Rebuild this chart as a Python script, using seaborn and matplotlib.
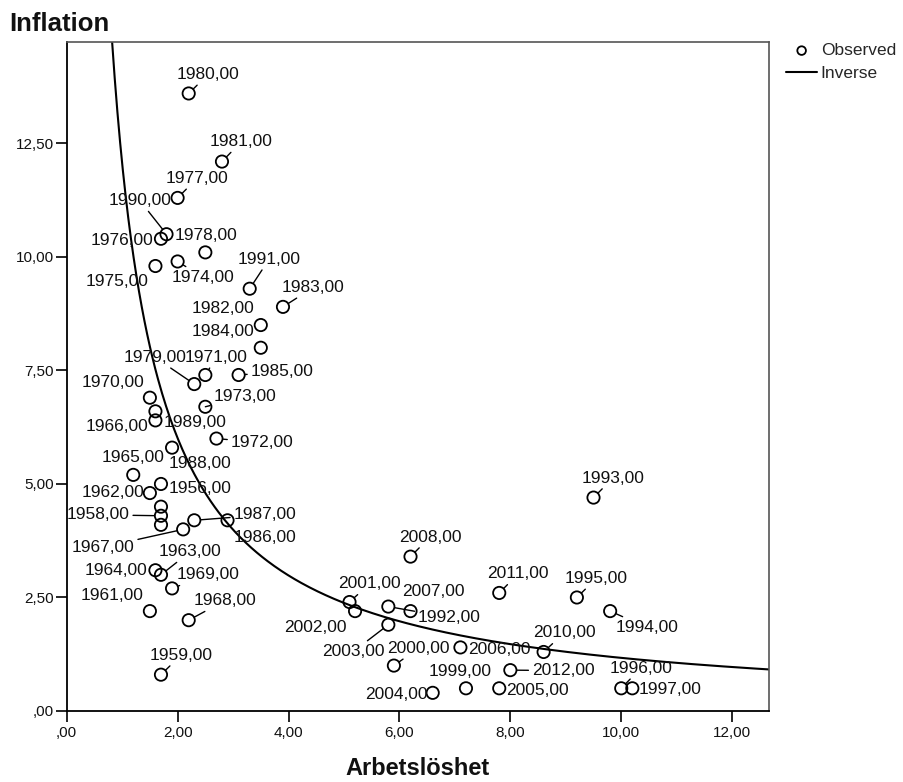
import numpy as np
import pandas as pd
import matplotlib
matplotlib.use("Agg")
import matplotlib.pyplot as plt
from matplotlib.ticker import FuncFormatter, FixedLocator
import seaborn as sns

# ---- data: unemployment (Arbetslöshet) vs inflation per year ----
years = [1956, 1957, 1958, 1959, 1960, 1961, 1962, 1963, 1964, 1965,
         1966, 1967, 1968, 1969, 1970, 1971, 1972, 1973, 1974, 1975,
         1976, 1977, 1978, 1979, 1980, 1981, 1982, 1983, 1984, 1985,
         1986, 1987, 1988, 1989, 1990, 1991, 1992, 1993, 1994, 1995,
         1996, 1997, 1999, 2000, 2001, 2002, 2003, 2004, 2005, 2006,
         2007, 2008, 2010, 2011, 2012]
unemployment = [1.7, 1.7, 1.7, 1.7, 1.7, 1.5, 1.5, 1.7, 1.6, 1.2,
                1.6, 2.1, 2.2, 1.9, 1.5, 2.5, 2.7, 2.5, 2.0, 1.6,
                1.7, 2.0, 2.5, 2.3, 2.2, 2.8, 3.5, 3.9, 3.5, 3.1,
                2.9, 2.3, 1.9, 1.6, 1.8, 3.3, 5.8, 9.5, 9.8, 9.2,
                10.0, 10.2, 7.2, 5.9, 5.1, 5.2, 5.8, 6.6, 7.8, 7.1,
                6.2, 6.2, 8.6, 7.8, 8.0]
inflation = [5.0, 4.5, 4.3, 0.8, 4.1, 2.2, 4.8, 3.0, 3.1, 5.2,
             6.4, 4.0, 2.0, 2.7, 6.9, 7.4, 6.0, 6.7, 9.9, 9.8,
             10.4, 11.3, 10.1, 7.2, 13.6, 12.1, 8.5, 8.9, 8.0, 7.4,
             4.2, 4.2, 5.8, 6.6, 10.5, 9.3, 2.3, 4.7, 2.2, 2.5,
             0.5, 0.5, 0.5, 1.0, 2.4, 2.2, 1.9, 0.4, 0.5, 1.4,
             2.2, 3.4, 1.3, 2.6, 0.9]
# years shown with a case label
labelled_years = [y for y in years if y not in (1957, 1960)]

# Inverse model: Inflation = b0 + b1 / Arbetslöshet
inverse_b0 = -0.04
inverse_b1 = 12.1

# where each case label sits (data coordinates)
label_pos = {
    1980: (2.55, 14.02), 1981: (3.15, 12.54), 1977: (2.35, 11.73),
    1990: (1.32, 11.24), 1976: (0.99, 10.37), 1978: (2.51, 10.48),
    1975: (0.91, 9.46), 1974: (2.46, 9.55), 1991: (3.65, 9.95),
    1983: (4.45, 9.33), 1982: (2.82, 8.87), 1984: (2.82, 8.35),
    1979: (1.59, 7.79), 1971: (2.70, 7.79), 1985: (3.88, 7.47),
    1970: (0.83, 7.23), 1973: (3.21, 6.92), 1966: (0.90, 6.26),
    1989: (2.31, 6.35), 1972: (3.52, 5.91), 1965: (1.20, 5.59),
    1988: (2.40, 5.46), 1962: (0.83, 4.82), 1956: (2.41, 4.91),
    1958: (0.57, 4.32), 1987: (3.57, 4.32), 1967: (0.66, 3.61),
    1986: (3.57, 3.83), 1963: (2.23, 3.51), 1964: (0.89, 3.09),
    1969: (2.55, 3.00), 1961: (0.81, 2.54), 1968: (2.85, 2.43),
    1959: (2.06, 1.23), 1993: (9.85, 5.13), 2008: (6.55, 3.83),
    2011: (8.14, 3.02), 1995: (9.55, 2.92), 2001: (5.46, 2.80),
    2007: (6.61, 2.63), 1992: (6.90, 2.06), 1994: (10.46, 1.84),
    2002: (4.49, 1.83), 2010: (8.97, 1.72), 2003: (5.17, 1.31),
    2000: (6.34, 1.38), 2006: (7.81, 1.36), 1999: (7.10, 0.87),
    2012: (8.95, 0.89), 1996: (10.35, 0.94), 2004: (5.95, 0.37),
    2005: (8.48, 0.45), 1997: (10.88, 0.48),
}
# labels joined to their point by a leader line
leader_years = {1980, 1981, 1977, 1990, 1991, 1983, 1974, 1979, 1971,
                1985, 1973, 1972, 1958, 1967, 1987, 1963, 1969, 1968,
                1959, 2008, 2011, 1995, 1993, 2001, 1992, 2003, 2000,
                2012, 2010, 1996, 1994}

x_ticks = [0, 2, 4, 6, 8, 10, 12]
y_ticks = [0, 2.5, 5, 7.5, 10, 12.5]
x_max, y_max = 12.67, 14.74

df = pd.DataFrame({"År": years, "Arbetslöshet": unemployment,
                   "Inflation": inflation})

sns.set_theme(style="ticks")
plt.rcParams["font.family"] = ["Liberation Sans", "DejaVu Sans"]

W, H = 904, 782
fig = plt.figure(figsize=(W / 100, H / 100), dpi=100)
fig.patch.set_facecolor("white")
ax = fig.add_axes([66.7 / W, 1 - 711 / H, (769.3 - 66.7) / W, (711 - 41.7) / H])
ax.set_facecolor("white")

sns.scatterplot(data=df, x="Arbetslöshet", y="Inflation", ax=ax,
                marker="o", s=78, facecolor="none", edgecolor="black",
                linewidth=1.3, label="Observed", zorder=3)

xs = np.linspace(0.5, x_max, 500)
curve = pd.DataFrame({"Arbetslöshet": xs,
                      "Inflation": inverse_b0 + inverse_b1 / xs})
sns.lineplot(data=curve, x="Arbetslöshet", y="Inflation", ax=ax,
             color="black", linewidth=1.5, label="Inverse", zorder=2)

# case labels, some with leader lines
lookup = dict(zip(years, zip(unemployment, inflation)))
for yr in labelled_years:
    px, py = lookup[yr]
    lx, ly = label_pos[yr]
    arrow = None
    if yr in leader_years:
        arrow = dict(arrowstyle="-", color="black", lw=1.0,
                     shrinkA=0, shrinkB=4.6)
    ax.annotate(f"{yr},00", xy=(px, py), xytext=(lx, ly),
                ha="center", va="center", fontsize=12.5, color="#111111",
                arrowprops=arrow, zorder=4)

ax.set_xlim(0, x_max)
ax.set_ylim(0, y_max)


def comma_fmt(v, _pos=None):
    s = f"{v:.2f}".replace(".", ",")
    if s.startswith("0,"):
        s = s[1:]
    return s


ax.xaxis.set_major_locator(FixedLocator(x_ticks))
ax.yaxis.set_major_locator(FixedLocator(y_ticks))
ax.xaxis.set_major_formatter(FuncFormatter(comma_fmt))
ax.yaxis.set_major_formatter(FuncFormatter(comma_fmt))
ax.tick_params(axis="both", direction="out", length=8, width=1.2,
               color="black", labelsize=11, labelcolor="#111111")
ax.tick_params(axis="x", pad=3)
ax.tick_params(axis="y", pad=1)

for side in ("left", "bottom"):
    ax.spines[side].set_color("black")
    ax.spines[side].set_linewidth(1.3)
for side in ("top", "right"):
    ax.spines[side].set_visible(True)
    ax.spines[side].set_color("#555555")
    ax.spines[side].set_linewidth(1.2)

ax.set_ylabel("")
ax.set_xlabel("Arbetslöshet", fontsize=17, fontweight="bold", color="#111111")
ax.xaxis.set_label_coords(0.5, -0.086)
ax.xaxis.label.set_va("center")

fig.text(9 / W, 1 - 24 / H, "Inflation", fontsize=18.5, fontweight="bold",
         color="#111111", ha="left", va="center")

handles, labels = ax.get_legend_handles_labels()
ax.legend(handles, labels, loc="upper left",
          bbox_to_anchor=(786 / W, 1 - 43 / H), bbox_transform=fig.transFigure,
          frameon=False, fontsize=12.5, markerscale=0.7, handlelength=1.8,
          handletextpad=0.2, labelspacing=0.45, borderpad=0, borderaxespad=0)

fig.savefig("out.png", dpi=100, facecolor="white")
